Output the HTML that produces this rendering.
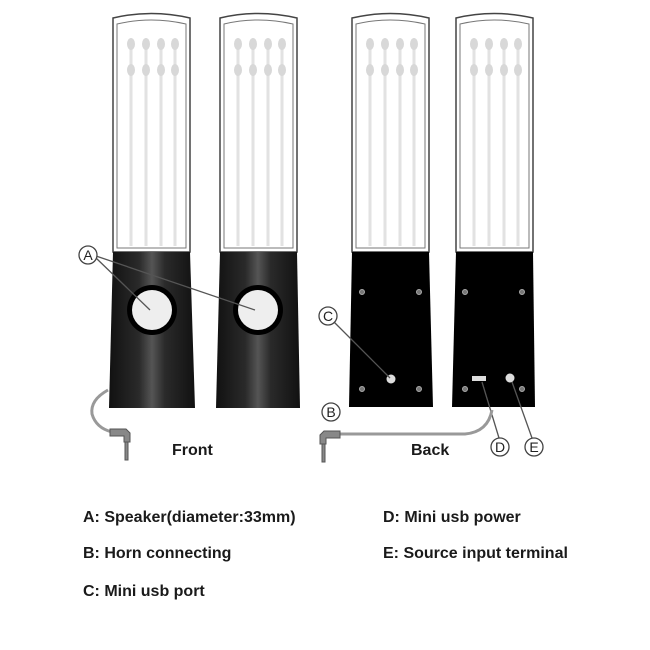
<!DOCTYPE html>
<html><head><style>
body{margin:0;background:#fff;width:650px;height:650px;overflow:hidden;font-family:"Liberation Sans",Arial,sans-serif}
.t{position:absolute;font-size:16px;font-weight:bold;color:#1a1a1a;line-height:18px}
</style></head><body>
<svg width="650" height="650" style="position:absolute;left:0;top:0">
<defs>
<linearGradient id="bk" x1="0" x2="1">
<stop offset="0" stop-color="#111"/><stop offset="0.35" stop-color="#2a2a2a"/><stop offset="0.5" stop-color="#555"/><stop offset="0.65" stop-color="#2a2a2a"/><stop offset="1" stop-color="#111"/>
</linearGradient>
<g id="tube">
<path d="M0,6 Q38,-3 77,6 L77,240 L0,240 Z" fill="#fff" stroke="#444" stroke-width="1.5"/>
<path d="M4,12 Q38,4 73,12 L73,236 L4,236 Z" fill="#fff" stroke="#777" stroke-width="1"/>
<g fill="#d8d8d8" stroke="#e2e2e2" stroke-width="3">
<line x1="18" y1="30" x2="18" y2="234"/><line x1="33" y1="30" x2="33" y2="234"/><line x1="48" y1="30" x2="48" y2="234"/><line x1="62" y1="30" x2="62" y2="234"/>
<ellipse cx="18" cy="32" rx="4" ry="6" stroke="none"/><ellipse cx="33" cy="32" rx="4" ry="6" stroke="none"/><ellipse cx="48" cy="32" rx="4" ry="6" stroke="none"/><ellipse cx="62" cy="32" rx="4" ry="6" stroke="none"/>
<ellipse cx="18" cy="58" rx="4" ry="6" stroke="none"/><ellipse cx="33" cy="58" rx="4" ry="6" stroke="none"/><ellipse cx="48" cy="58" rx="4" ry="6" stroke="none"/><ellipse cx="62" cy="58" rx="4" ry="6" stroke="none"/>
</g>
</g>
</defs>
<use href="#tube" x="113" y="12"/>
<path d="M113,252 L190,252 L195,408 L109,408 Z" fill="url(#bk)"/>
<circle cx="152" cy="310" r="25" fill="#000"/><circle cx="152" cy="310" r="20" fill="#eee"/>
<use href="#tube" x="220" y="12"/>
<path d="M220,252 L297,252 L300,408 L216,408 Z" fill="url(#bk)"/>
<circle cx="258" cy="310" r="25" fill="#000"/><circle cx="258" cy="310" r="20" fill="#eee"/>
<use href="#tube" x="352" y="12"/>
<path d="M352,252 L429,252 L433,407 L349,407 Z" fill="#000"/>
<use href="#tube" x="456" y="12"/>
<path d="M456,252 L533,252 L535,407 L452,407 Z" fill="#000"/>
<g fill="#777" stroke="#aaa" stroke-width="1">
<circle cx="362" cy="292" r="2.5"/><circle cx="419" cy="292" r="2.5"/><circle cx="362" cy="389" r="2.5"/><circle cx="419" cy="389" r="2.5"/>
<circle cx="465" cy="292" r="2.5"/><circle cx="522" cy="292" r="2.5"/><circle cx="465" cy="389" r="2.5"/><circle cx="522" cy="389" r="2.5"/>
</g>
<circle cx="391" cy="379" r="4.5" fill="#ddd"/>
<rect x="472" y="376" width="14" height="5" fill="#ddd"/>
<circle cx="510" cy="378" r="4.5" fill="#ddd"/>
<g stroke="#555" stroke-width="1.3" fill="none">
<line x1="96" y1="258" x2="150" y2="310"/><line x1="96" y1="256" x2="255" y2="310"/>
<line x1="334" y1="322" x2="390" y2="378"/>
<line x1="482" y1="382" x2="499" y2="438"/>
<line x1="512" y1="382" x2="532" y2="438"/>
</g>
<g stroke="#999" stroke-width="3" fill="none">
<path d="M108,390 Q90,400 92,414 Q96,428 112,432"/>
<path d="M340,434 L465,434 Q488,432 492,410"/>
</g>
<g fill="#888" stroke="#555" stroke-width="1">
<path d="M110,429 L126,429 L130,433 L130,442 L124,442 L124,436 L110,436 Z"/>
<rect x="125" y="442" width="3" height="18"/>
<path d="M340,431 L324,431 L320,435 L320,444 L326,444 L326,438 L340,438 Z"/>
<rect x="322" y="444" width="3" height="18"/>
</g>
<g fill="#fff" stroke="#444" stroke-width="1.3">
<circle cx="88" cy="255" r="9"/><circle cx="328" cy="316" r="9"/><circle cx="331" cy="412" r="9"/><circle cx="500" cy="447" r="9"/><circle cx="534" cy="447" r="9"/>
</g>
<g font-family="Liberation Sans,Arial,sans-serif" font-size="14" fill="#222" text-anchor="middle">
<text x="88" y="260">A</text><text x="328" y="321">C</text><text x="331" y="417">B</text><text x="500" y="452">D</text><text x="534" y="452">E</text>
</g>
</svg>
<div class="t" style="left:172px;top:442px">Front</div>
<div class="t" style="left:411px;top:442px">Back</div>
<div class="t" style="left:83px;top:509px">A: Speaker(diameter:33mm)</div>
<div class="t" style="left:83px;top:545px">B: Horn connecting</div>
<div class="t" style="left:83px;top:583px">C: Mini usb port</div>
<div class="t" style="left:383px;top:509px">D: Mini usb power</div>
<div class="t" style="left:383px;top:545px">E: Source input terminal</div>
</body></html>
